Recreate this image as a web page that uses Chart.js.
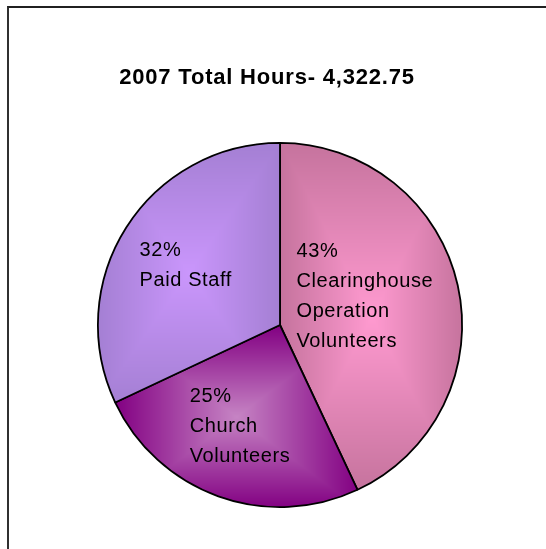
<!DOCTYPE html>
<html>
<head>
<meta charset="utf-8">
<script src="https://cdn.jsdelivr.net/npm/chart.js@4.4.1/dist/chart.umd.min.js"></script>
<style>
  html, body { margin: 0; padding: 0; background: #fff; }
  #wrap { position: relative; width: 546px; height: 549px; overflow: hidden; }
  #frame { position: absolute; left: 7px; top: 6px; width: 600px; height: 600px;
           border-left: 2px solid #303030; border-top: 2px solid #202020; }
  canvas { position: absolute; left: 0; top: 0; }
</style>
</head>
<body>
<div id="wrap">
  <div id="frame"></div>
  <canvas id="pie" width="546" height="549"></canvas>
</div>
<script>
const chartTitle = '2007 Total Hours- 4,322.75';
const categories = ['Clearinghouse Operation Volunteers', 'Church Volunteers', 'Paid Staff'];
const labelLines = [['Clearinghouse', 'Operation', 'Volunteers'], ['Church', 'Volunteers'], ['Paid Staff']];
const shares = [43, 25, 32];

// gradient colours (centre -> edge of each slice)
const centerColors = ['#ff9ad0', '#c684c4', '#ca96fc'];
const edgeColors = ['#c5739d', '#820082', '#a47fd3'];

// label placement along the mid angle, as a fraction of the radius
const labelRadius = [0.5, 0.6, 0.6];
const labelShift = [[-4, -10], [-3, -3], [-2, -2]];

const total = shares.reduce((a, b) => a + b, 0);

function hex(c) {
  return [parseInt(c.slice(1, 3), 16), parseInt(c.slice(3, 5), 16), parseInt(c.slice(5, 7), 16)];
}

const fillCache = {};
function sliceFill(c) {
  const chart = c.chart, i = c.dataIndex;
  const area = chart.chartArea;
  if (!area) return centerColors[i];
  const key = i + ':' + [area.left, area.top, area.right, area.bottom].join(',');
  if (fillCache[key]) return fillCache[key];

  const cx = (area.left + area.right) / 2, cy = (area.top + area.bottom) / 2;
  const r = Math.min(area.right - area.left, area.bottom - area.top) / 2;
  let before = 0;
  for (let k = 0; k < i; k++) before += shares[k];
  const a0 = -Math.PI / 2 + 2 * Math.PI * before / total;
  const a1 = a0 + 2 * Math.PI * shares[i] / total;

  // bounding box of the sector
  const pts = [[cx, cy], [cx + r * Math.cos(a0), cy + r * Math.sin(a0)], [cx + r * Math.cos(a1), cy + r * Math.sin(a1)]];
  for (let k = -1; k <= 4; k++) {
    const a = k * Math.PI / 2;
    if (a > a0 && a < a1) pts.push([cx + r * Math.cos(a), cy + r * Math.sin(a)]);
  }
  const x0 = Math.min(...pts.map(p => p[0])), x1 = Math.max(...pts.map(p => p[0]));
  const y0 = Math.min(...pts.map(p => p[1])), y1 = Math.max(...pts.map(p => p[1]));

  const dpr = chart.currentDevicePixelRatio || 1;
  const off = document.createElement('canvas');
  off.width = chart.canvas.width;
  off.height = chart.canvas.height;
  const octx = off.getContext('2d');
  const bx = Math.floor(x0 * dpr), by = Math.floor(y0 * dpr);
  const bw = Math.ceil((x1 - x0) * dpr) + 2, bh = Math.ceil((y1 - y0) * dpr) + 2;
  const img = octx.createImageData(bw, bh);
  const ca = hex(centerColors[i]), ea = hex(edgeColors[i]);
  const mx = (x0 + x1) / 2 * dpr, my = (y0 + y1) / 2 * dpr;
  const hw = (x1 - x0) / 2 * dpr, hh = (y1 - y0) / 2 * dpr;
  for (let py = 0; py < bh; py++) {
    for (let px = 0; px < bw; px++) {
      const t = Math.min(1, Math.max(Math.abs(bx + px - mx) / hw, Math.abs(by + py - my) / hh));
      const o = (py * bw + px) * 4;
      img.data[o] = ca[0] + (ea[0] - ca[0]) * t;
      img.data[o + 1] = ca[1] + (ea[1] - ca[1]) * t;
      img.data[o + 2] = ca[2] + (ea[2] - ca[2]) * t;
      img.data[o + 3] = 255;
    }
  }
  octx.putImageData(img, bx, by);
  const pattern = chart.ctx.createPattern(off, 'no-repeat');
  pattern.setTransform(new DOMMatrix().scaleSelf(1 / dpr));
  fillCache[key] = pattern;
  return pattern;
}

const textPlugin = {
  id: 'texts',
  afterDatasetsDraw(chart) {
    const ctx = chart.ctx;
    const meta = chart.getDatasetMeta(0);
    ctx.save();
    ctx.fillStyle = '#000';
    ctx.textBaseline = 'alphabetic';
    ctx.textAlign = 'left';
    ctx.font = '20px "Liberation Sans", Arial, sans-serif';
    ctx.letterSpacing = '0.6px';
    meta.data.forEach((arc, i) => {
      const p = arc.getProps(['x', 'y', 'startAngle', 'endAngle', 'outerRadius'], true);
      const mid = (p.startAngle + p.endAngle) / 2;
      const ax = p.x + Math.cos(mid) * p.outerRadius * labelRadius[i] + labelShift[i][0];
      const ay = p.y + Math.sin(mid) * p.outerRadius * labelRadius[i] + labelShift[i][1];
      const lines = [Math.round(shares[i] / total * 100) + '%'].concat(labelLines[i]);
      const w = Math.max(...lines.map(l => ctx.measureText(l).width));
      const cap = 14, lh = 30;
      const first = ay - (lines.length - 1) * lh / 2 + cap / 2;
      lines.forEach((l, k) => ctx.fillText(l, ax - w / 2, first + k * lh));
    });
    ctx.font = 'bold 22px "Liberation Sans", Arial, sans-serif';
    ctx.letterSpacing = '0.8px';
    ctx.textAlign = 'center';
    ctx.fillText(chartTitle, 267, 84);
    ctx.restore();
  }
};

new Chart(document.getElementById('pie').getContext('2d'), {
  type: 'pie',
  data: {
    labels: categories,
    datasets: [{
      data: shares,
      backgroundColor: sliceFill,
      borderColor: '#000',
      borderWidth: 1.8,
      hoverOffset: 0
    }]
  },
  options: {
    responsive: false,
    animation: false,
    events: [],
    layout: { padding: { left: 97, right: 83, top: 142, bottom: 41 } },
    plugins: {
      legend: { display: false },
      title: { display: false },
      tooltip: { enabled: false }
    }
  },
  plugins: [textPlugin]
});
</script>
</body>
</html>
